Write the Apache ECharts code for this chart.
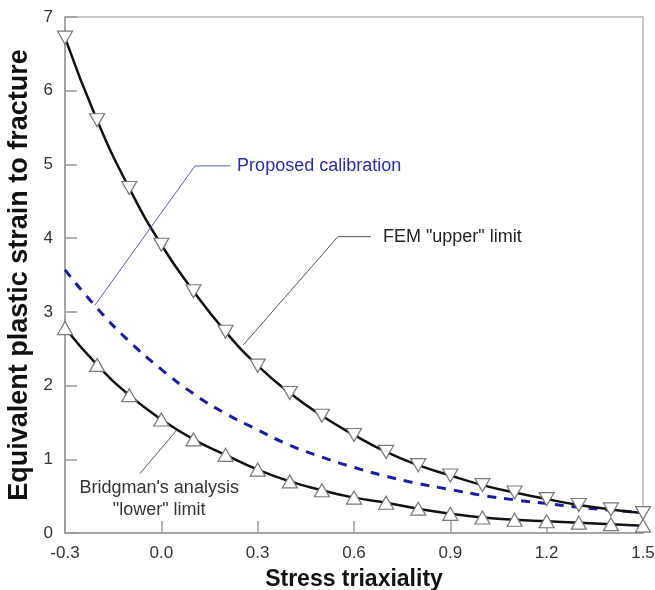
<!DOCTYPE html>
<html><head><meta charset="utf-8">
<script src="https://cdn.jsdelivr.net/npm/echarts@6/dist/echarts.min.js"></script>
<style>html,body{margin:0;padding:0;background:#fff}#c{width:655px;height:590px}</style>
</head><body><div id="c"></div>
<script>
const xValues = [-0.3,-0.2,-0.1,0.0,0.1,0.2,0.3,0.4,0.5,0.6,0.7,0.8,0.9,1.0,1.1,1.2,1.3,1.4,1.5];
const femUpper = [6.72,5.60,4.68,3.91,3.28,2.73,2.27,1.90,1.59,1.33,1.10,0.92,0.78,0.65,0.55,0.46,0.38,0.32,0.27];
const bridgmanLower = [2.78,2.28,1.87,1.54,1.27,1.06,0.86,0.70,0.58,0.48,0.41,0.33,0.26,0.21,0.18,0.16,0.14,0.12,0.10];
const proposed = [3.57,3.05,2.60,2.22,1.89,1.62,1.40,1.19,1.03,0.89,0.77,0.67,0.59,0.51,0.45,0.40,0.35,0.31,0.28];
const xTicks = ['-0.3','0.0','0.3','0.6','0.9','1.2','1.5'];

const pair = arr => xValues.map((x,i)=>[x,arr[i]]);
const chart = echarts.init(document.getElementById('c'));
const font = 'Arial, "Liberation Sans", sans-serif';
const markerStyle = {color:'#fff', borderColor:'#777', borderWidth:1.2};
chart.setOption({
  animation:false,
  grid:{left:65,right:12,top:17,bottom:57,show:true,borderColor:'#b5b5b5',borderWidth:1.5,
    containLabel:false,outerBoundsMode:'none'},
  xAxis:{type:'value',min:-0.3,max:1.5,interval:0.3,
    name:'Stress triaxiality',nameLocation:'middle',nameGap:35,
    nameTextStyle:{fontFamily:font,fontWeight:'bold',fontSize:23,color:'#111'},
    axisLine:{onZero:false,lineStyle:{color:'#999',width:1.5}},
    axisTick:{inside:true,length:12,lineStyle:{color:'#999',width:1.5}},
    splitLine:{show:false},
    axisLabel:{fontFamily:font,fontSize:17,color:'#333',margin:12,
      formatter:v=>{const s=v.toFixed(1);return xTicks.includes(s)?s:'';}}},
  yAxis:{type:'value',min:0,max:7,interval:1,
    name:'Equivalent plastic strain to fracture',nameLocation:'middle',nameGap:21,
    nameTextStyle:{fontFamily:font,fontWeight:'bold',fontSize:27,color:'#111'},
    axisLine:{onZero:false,lineStyle:{color:'#999',width:1.5}},
    axisTick:{inside:true,length:12,lineStyle:{color:'#999',width:1.5}},
    splitLine:{show:false},
    axisLabel:{fontFamily:font,fontSize:17,color:'#333',margin:12}},
  series:[
    {type:'line',data:pair(proposed),smooth:true,symbol:'none',z:2,
      lineStyle:{color:'#1c1c9c',width:3,type:[9,8]}},
    {type:'line',data:pair(femUpper),smooth:true,symbol:'triangle',symbolRotate:180,symbolSize:[15,13],z:3,
      lineStyle:{color:'#111',width:2.5},itemStyle:markerStyle},
    {type:'line',data:pair(bridgmanLower),smooth:true,symbol:'triangle',symbolSize:[15,13],z:3,
      lineStyle:{color:'#111',width:2.5},itemStyle:markerStyle}
  ]
});
const P = (x,y)=>chart.convertToPixel({gridIndex:0},[x,y]);
const a1=P(0.236,5.02), a2=P(0.105,4.98), a3=P(-0.207,3.09);
const b1=P(0.69,4.02), b2=P(0.55,4.02), b3=P(0.255,2.55);
const c1=P(-0.066,0.81), c2=P(0.049,1.40);
chart.setOption({graphic:[
  {type:'polyline',shape:{points:[[a1[0]-7,a2[1]],a2,a3]},style:{stroke:'#5560b0',lineWidth:1,fill:null},z:10},
  {type:'text',x:a1[0],y:a2[1],style:{text:'Proposed calibration',font:'18px '+font,fill:'#2b2ba0',textVerticalAlign:'middle'},z:10},
  {type:'polyline',shape:{points:[[b1[0]-12,b2[1]],b2,b3]},style:{stroke:'#555',lineWidth:1,fill:null},z:10},
  {type:'text',x:b1[0],y:b2[1],style:{text:'FEM "upper" limit',font:'18px '+font,fill:'#222',textVerticalAlign:'middle'},z:10},
  {type:'line',shape:{x1:c1[0],y1:c1[1],x2:c2[0],y2:c2[1]},style:{stroke:'#555',lineWidth:1},z:10},
  {type:'text',x:c1[0]+19,y:c1[1]+4,style:{text:'Bridgman\'s analysis\n"lower" limit',font:'18px '+font,fill:'#333',textAlign:'center',lineHeight:22},z:10}
]});
</script></body></html>
